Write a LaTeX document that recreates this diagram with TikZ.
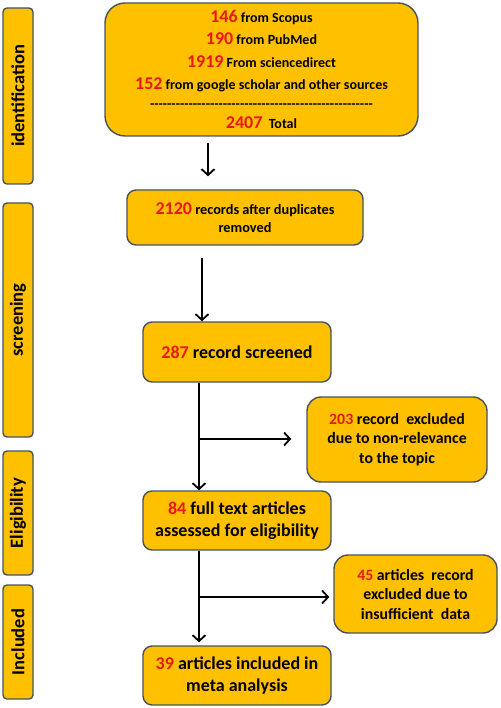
\documentclass[tikz,border=0pt]{standalone}
\usepackage{fontspec}
\setmainfont{Carlito}
\usetikzlibrary{arrows.meta}

\definecolor{boxfill}{HTML}{FFC000}
\definecolor{boxline}{HTML}{46535F}
\definecolor{numred}{HTML}{E8190F}
\newcommand{\rno}[1]{{\color{numred}#1}}
\newcommand{\dashrow}{\foreach \i in {1,...,52}{-\kern0pt}}

\tikzset{
  box/.style={rectangle,draw=boxline,line width=1.4pt,fill=boxfill,
    rounded corners=9pt,align=center,inner sep=0pt,font=\bfseries},
  side/.style={box,rounded corners=4pt,minimum height=30pt,rotate=90,
    font=\bfseries\fontsize{18.5}{20}\selectfont},
  arr/.style={-{Straight Barb[length=6pt,width=13pt]},line width=1.8pt}
}

\begin{document}
\begin{tikzpicture}[x=1pt,y=-1pt]
  \useasboundingbox (0,0) rectangle (500,708);

  % phase labels
  \begin{scope}[every node/.style={side}]
    \node[minimum width=176pt] (s1) at (18,96)  {identification};
    \node[minimum width=234pt] (s2) at (18,320) {screening};
    \node[minimum width=124pt] (s3) at (18,513) {Eligibility};
    \node[minimum width=114pt] (s4) at (18,642) {Included};
  \end{scope}

  % boxes
  \begin{scope}[every node/.style={box}]
    \node[rounded corners=20pt,minimum width=313pt,minimum height=133pt,
      font=\bfseries\fontsize{14}{22.5}\selectfont] (1) at (261.5,69.5)
      {\rno{\fontsize{18}{20}\selectfont 146} from Scopus\\
       \rno{\fontsize{18}{20}\selectfont 190} from PubMed\\
       \rno{\fontsize{18}{20}\selectfont 1919} From sciencedirect\\
       \rno{\fontsize{18}{20}\selectfont 152} from google scholar and other sources\\[-4pt]
       \dashrow\\[-2pt]
       \rno{\fontsize{18}{20}\selectfont 2407}\ \ Total};
    \node[minimum width=236pt,minimum height=55pt,
      font=\bfseries\fontsize{14.3}{18}\selectfont] (2) at (245,217.5)
      {\rno{\fontsize{18}{18}\selectfont 2120} records after duplicates\\ removed};
    \node[minimum width=188pt,minimum height=60pt,
      font=\bfseries\fontsize{18}{22}\selectfont] (3) at (237,352)
      {\rno{287} record screened};
    \node[rounded corners=14pt,minimum width=180pt,minimum height=85pt,
      font=\bfseries\fontsize{15.8}{19.5}\selectfont] (4) at (397,439.5)
      {\rno{203} record\ \ excluded\\ due to non-relevance\\ to the topic};
    \node[minimum width=188pt,minimum height=59pt,
      font=\bfseries\fontsize{18}{22}\selectfont] (5) at (237,520.5)
      {\rno{84} full text articles\\ assessed for eligibility};
    \node[rounded corners=14pt,minimum width=163pt,minimum height=78pt,
      font=\bfseries\fontsize{15.8}{19.5}\selectfont] (6) at (415.5,594)
      {\rno{45} articles\ \ record\\ excluded due to\\ insufficient\ \ data};
    \node[minimum width=188pt,minimum height=59pt,
      font=\bfseries\fontsize{18}{22}\selectfont] (7) at (237,675.5)
      {\rno{39} articles included in\\ meta analysis};
  \end{scope}

  % arrow columns and branch points
  \coordinate (a1) at (208,0);
  \coordinate (a2) at (202,0);
  \coordinate (a3) at (199,0);
  \coordinate (b1) at (199,439);
  \coordinate (b2) at (200,597);

  \begin{scope}[every edge/.style={draw,arr}]
    \path (1.south -| a1) edge[shorten <=6pt,shorten >=13pt] (2.north -| a1);
    \path (2.south -| a2) edge[shorten <=12pt] (3.north -| a2);
    \path (3.south -| a3) edge (5.north -| a3);
    \path (5.south -| a3) edge[shorten >=3pt] (7.north -| a3);
    \path (b1) edge[shorten >=15pt] (b1 -| 4.west);
    \path (b2) edge[shorten >=4pt] (b2 -| 6.west);
  \end{scope}

\end{tikzpicture}
\end{document}
